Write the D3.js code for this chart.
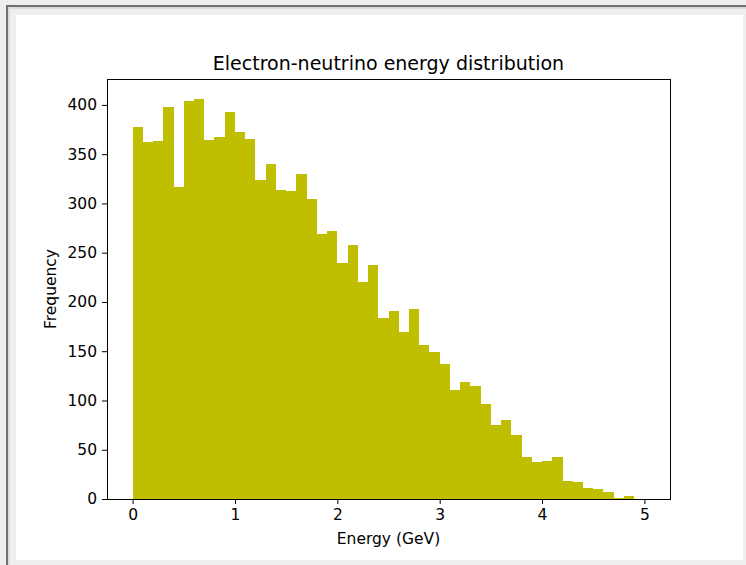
<!DOCTYPE html>
<html lang="en">
    <head>
        <meta charset="utf-8">
        <title>Electron-neutrino energy distribution</title>
        <script src="https://d3js.org/d3.v7.min.js"></script>
        <style type="text/css">
            body { margin: 0; background: #eeeeee; }
            text { font-family: "DejaVu Sans", sans-serif; fill: #000; }
        </style>
    </head>
    <body>
        <script type="text/javascript">

            const w = 746;
            const h = 565;

            // histogram: 50 bins of 0.1 GeV between 0 and 5
            const binEdges = d3.range(0, 51).map(i => i / 10);
            const counts = [378, 362, 363, 398, 317, 404, 406, 364, 367, 393,
                            372, 365, 324, 340, 314, 313, 330, 305, 269, 272,
                            240, 258, 220, 238, 184, 191, 169, 193, 156, 149,
                            137, 111, 119, 115, 96, 75, 80, 65, 43, 38,
                            39, 43, 18, 17, 11, 10, 7, 1, 3, 0];
            const xTicks = [0, 1, 2, 3, 4, 5];
            const yTicks = [0, 50, 100, 150, 200, 250, 300, 350, 400];

            const bins = counts.map((c, i) => ({x0: binEdges[i], x1: binEdges[i + 1], count: c}));

            const plot = {left: 107, right: 670, top: 79, bottom: 499};

            const xScale = d3.scaleLinear()
                             .domain([-0.25, 5.25])
                             .range([plot.left, plot.right]);

            const yScale = d3.scaleLinear()
                             .domain([0, d3.max(counts) * 1.05])
                             .range([plot.bottom, plot.top]);

            const svg = d3.select("body")
                          .append("svg")
                          .attr("width", w)
                          .attr("height", h);

            // window frame
            svg.append("rect").attr("x", 0).attr("y", 0).attr("width", w).attr("height", h).attr("fill", "#eeeeee");
            svg.append("path")
               .attr("d", "M7," + h + "V6H" + w)
               .attr("fill", "none").attr("stroke", "#707070").attr("stroke-width", 2);
            svg.append("path")
               .attr("d", "M9," + h + "V8H" + w)
               .attr("fill", "none").attr("stroke", "#c8c8c8").attr("stroke-width", 1);
            svg.append("rect").attr("x", 16).attr("y", 15).attr("width", 727).attr("height", 545).attr("fill", "#ffffff");

            svg.selectAll("rect.bar")
               .data(bins)
               .enter()
               .append("rect")
               .attr("class", "bar")
               .attr("x", d => xScale(d.x0))
               .attr("y", d => yScale(d.count))
               .attr("width", d => xScale(d.x1) - xScale(d.x0))
               .attr("height", d => yScale(0) - yScale(d.count))
               .attr("fill", "#bfbf00")
               .attr("shape-rendering", "crispEdges");

            const bottomAxis = d3.axisBottom(xScale)
                                 .tickValues(xTicks)
                                 .tickSizeInner(5)
                                 .tickSizeOuter(0)
                                 .tickPadding(5)
                                 .tickFormat(d3.format("d"));

            const gx = svg.append("g")
                          .attr("class", "axis")
                          .attr("transform", "translate(0," + plot.bottom + ")")
                          .call(bottomAxis);

            const leftAxis = d3.axisLeft(yScale)
                               .tickValues(yTicks)
                               .tickSizeInner(5)
                               .tickSizeOuter(0)
                               .tickPadding(5)
                               .tickFormat(d3.format("d"));

            const gy = svg.append("g")
                          .attr("class", "axis")
                          .attr("transform", "translate(" + plot.left + ",0)")
                          .call(leftAxis);

            svg.selectAll(".axis .domain").remove();
            svg.selectAll(".axis text")
               .style("font-family", "DejaVu Sans, sans-serif")
               .style("font-size", "15.5px");
            svg.selectAll(".axis line").attr("stroke", "#000");

            // axes frame
            svg.append("rect")
               .attr("x", plot.left)
               .attr("y", plot.top)
               .attr("width", plot.right - plot.left)
               .attr("height", plot.bottom - plot.top)
               .attr("fill", "none")
               .attr("stroke", "#000")
               .attr("stroke-width", 1)
               .attr("shape-rendering", "crispEdges");

            svg.append("text")
               .attr("x", (plot.left + plot.right) / 2)
               .attr("y", 70)
               .attr("text-anchor", "middle")
               .style("font-size", "19px")
               .text("Electron-neutrino energy distribution");

            svg.append("text")
               .attr("x", (plot.left + plot.right) / 2)
               .attr("y", 544)
               .attr("text-anchor", "middle")
               .style("font-size", "15.5px")
               .text("Energy (GeV)");

            svg.append("text")
               .attr("transform", "translate(56," + ((plot.top + plot.bottom) / 2) + ") rotate(-90)")
               .attr("text-anchor", "middle")
               .style("font-size", "15.5px")
               .text("Frequency");

        </script>
    </body>
</html>
